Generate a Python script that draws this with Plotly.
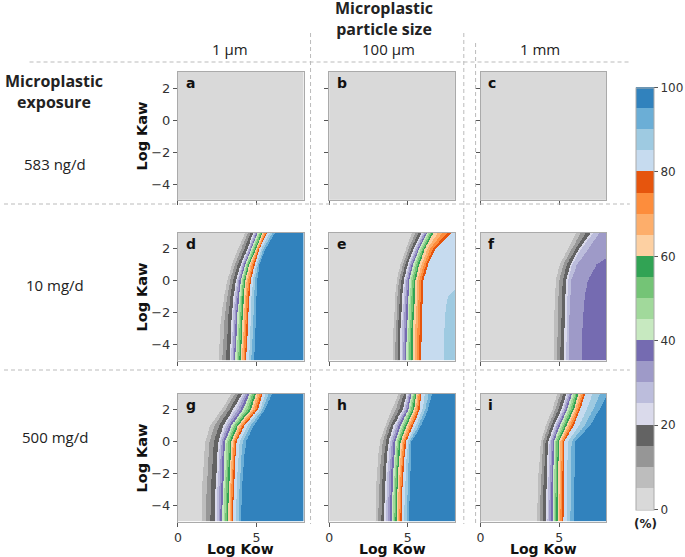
import numpy as np
import plotly.graph_objects as go

W, H = 685, 557

# ---------------- data ----------------
KOW_RANGE = [0, 8]
KAW_RANGE = [-5, 3]
KAW_ROWS = [-5, -4, -3, -2, -1, 0, 1, 2, 3]

SIZES = ["1 µm", "100 µm", "1 mm"]
EXPOSURES = ["583 ng/d", "10 mg/d", "500 mg/d"]
LETTERS = ["a", "b", "c", "d", "e", "f", "g", "h", "i"]

# Kow position (one per Kaw row) where the percentage reaches each level
PANEL_A = {}
PANEL_B = {}
PANEL_C = {}
PANEL_D = {
    5:  [2.6, 2.65, 2.7, 2.8, 2.95, 3.15, 3.45, 3.85, 4.3],
    20: [3.3, 3.35, 3.4, 3.45, 3.55, 3.7, 4.0, 4.45, 4.8],
    40: [3.65, 3.7, 3.75, 3.8, 3.9, 4.0, 4.3, 4.7, 5.1],
    60: [4.0, 4.05, 4.1, 4.15, 4.2, 4.3, 4.55, 5.0, 5.4],
    80: [4.35, 4.4, 4.45, 4.5, 4.55, 4.65, 4.9, 5.2, 5.7],
    95: [4.85, 4.9, 4.95, 5.0, 5.0, 5.05, 5.2, 5.6, 6.2],
}
PANEL_E = {
    5:  [4.05, 4.07, 4.1, 4.15, 4.2, 4.3, 4.55, 4.9, 5.3],
    20: [4.5, 4.52, 4.55, 4.6, 4.65, 4.75, 5.0, 5.4, 5.9],
    40: [4.9, 4.92, 4.95, 5.0, 5.05, 5.1, 5.35, 5.75, 6.25],
    60: [5.3, 5.32, 5.35, 5.4, 5.45, 5.5, 5.75, 6.1, 6.65],
    80: [5.85, 5.87, 5.9, 5.93, 5.97, 6.0, 6.3, 6.8, 7.85],
    85: [7.3, 7.32, 7.35, 7.4, 7.55, 8.6, 9.5, 9.8, 10.0],
}
PANEL_F = {
    5:  [4.65, 4.67, 4.7, 4.72, 4.75, 4.8, 5.05, 5.6, 6.1],
    20: [5.3, 5.32, 5.35, 5.38, 5.42, 5.46, 5.73, 6.3, 7.05],
    25: [5.45, 5.47, 5.5, 5.52, 5.55, 5.58, 5.83, 6.45, 7.2],
    30: [5.6, 5.62, 5.65, 5.68, 5.72, 5.77, 6.15, 6.9, 7.6],
    35: [6.45, 6.47, 6.5, 6.55, 6.65, 6.85, 7.4, 9.0, 10.0],
}
PANEL_G = {
    5:  [1.5, 1.52, 1.55, 1.6, 1.67, 1.75, 2.06, 2.79, 3.42],
    20: [2.35, 2.37, 2.4, 2.45, 2.5, 2.58, 2.9, 3.52, 4.1],
    40: [2.83, 2.85, 2.88, 2.92, 2.96, 3.0, 3.42, 4.15, 4.56],
    60: [3.2, 3.22, 3.25, 3.3, 3.36, 3.42, 3.83, 4.67, 4.98],
    80: [3.52, 3.54, 3.57, 3.62, 3.67, 3.73, 4.25, 5.1, 5.4],
    95: [4.02, 4.05, 4.1, 4.15, 4.22, 4.35, 4.85, 5.55, 6.0],
}
PANEL_H = {
    5:  [2.95, 2.97, 3.0, 3.05, 3.12, 3.23, 3.58, 4.0, 4.42],
    20: [3.5, 3.52, 3.55, 3.6, 3.68, 3.79, 4.1, 4.69, 4.94],
    40: [3.98, 4.0, 4.03, 4.08, 4.14, 4.21, 4.56, 5.04, 5.25],
    60: [4.3, 4.32, 4.35, 4.4, 4.47, 4.56, 4.94, 5.4, 5.56],
    80: [4.62, 4.64, 4.67, 4.72, 4.8, 4.9, 5.35, 5.77, 5.88],
    95: [5.1, 5.12, 5.14, 5.17, 5.2, 5.25, 5.87, 6.29, 6.56],
}
PANEL_I = {
    5:  [3.6, 3.62, 3.65, 3.7, 3.77, 3.85, 4.17, 4.58, 4.9],
    20: [4.17, 4.19, 4.2, 4.23, 4.27, 4.31, 4.69, 5.15, 5.48],
    40: [4.58, 4.6, 4.62, 4.64, 4.66, 4.69, 5.06, 5.52, 5.83],
    60: [4.9, 4.92, 4.94, 4.96, 4.98, 5.0, 5.48, 5.94, 6.25],
    80: [5.27, 5.29, 5.3, 5.31, 5.33, 5.35, 5.94, 6.35, 6.67],
    95: [5.94, 5.95, 5.96, 5.98, 6.0, 6.04, 6.98, 7.6, 8.1],
}
# value reached at high Kow (beyond the last boundary)
PLATEAU = [0, 0, 0, 97.5, 87.5, 37.5, 97.5, 97.5, 97.5]
PANELS = [PANEL_A, PANEL_B, PANEL_C, PANEL_D, PANEL_E, PANEL_F, PANEL_G, PANEL_H, PANEL_I]

CBAR_TICKS = [0, 20, 40, 60, 80, 100]
# tab20c, reversed (0 % -> 100 %), 5 % steps
BAND_COLORS = ['#d9d9d9', '#bdbdbd', '#969696', '#636363',
               '#dadaeb', '#bcbddc', '#9e9ac8', '#756bb1',
               '#c7e9c0', '#a1d99b', '#74c476', '#31a354',
               '#fdd0a2', '#fdae6b', '#fd8d3c', '#e6550d',
               '#c6dbef', '#9ecae1', '#6baed6', '#3182bd']

# ---------------- build ----------------
kow = np.linspace(KOW_RANGE[0], KOW_RANGE[1], 321)
kaw = np.linspace(KAW_RANGE[0], KAW_RANGE[1], 321)


def field(panel, plateau):
    z = np.zeros((len(kaw), len(kow)))
    if not panel:
        return z + plateau
    levels = sorted(panel)
    pos = np.array([np.interp(kaw, KAW_ROWS, panel[l]) for l in levels])
    for j in range(len(kaw)):
        z[j] = np.interp(kow, pos[:, j], levels, left=0.0, right=plateau)
    return z


n = len(BAND_COLORS)
colorscale = []
for k, c in enumerate(BAND_COLORS):
    colorscale.append([k / n, c])
    colorscale.append([(k + 1) / n, c])

COL_PX = [(177, 305), (331, 459), (485, 613)]
ROW_PX = [(72, 200), (232.5, 360.5), (393.5, 521.5)]

fx = lambda p: p / W
fy = lambda p: 1 - p / H

fig = go.Figure()
layout = {}
annotations = []
tickfont = dict(family="DejaVu Sans", size=13, color="#333333")
xtickfont = dict(family="DejaVu Sans", size=12.5, color="#333333")

for idx in range(9):
    r, c = divmod(idx, 3)
    k = idx + 1
    xs = "" if k == 1 else str(k)
    fig.add_trace(go.Heatmap(
        x=kow, y=kaw, z=field(PANELS[idx], PLATEAU[idx]),
        coloraxis="coloraxis", xaxis="x" + xs, yaxis="y" + xs,
        hoverinfo="skip", zsmooth=False))
    x0, x1 = COL_PX[c]
    y0, y1 = ROW_PX[r]
    layout["xaxis" + xs] = dict(
        domain=[fx(x0), fx(x1)], anchor="y" + xs, range=KOW_RANGE,
        tickvals=[0, 5], showticklabels=(r == 2), ticks="outside", ticklen=4,
        tickcolor="#555555", showline=True, mirror=True, linecolor="#aaaaaa",
        linewidth=1, showgrid=False, zeroline=False, tickfont=xtickfont, fixedrange=True)
    layout["yaxis" + xs] = dict(
        domain=[fy(y1), fy(y0)], anchor="x" + xs, range=KAW_RANGE,
        tickvals=[-4, -2, 0, 2], showticklabels=(c == 0), ticks="outside", ticklen=4,
        tickcolor="#555555", showline=True, mirror=True, linecolor="#aaaaaa",
        linewidth=1, showgrid=False, zeroline=False, tickfont=tickfont, fixedrange=True)
    annotations.append(dict(
        text="<b>%s</b>" % LETTERS[idx], x=fx(x0 + 6), y=fy(y0 + 11),
        xref="paper", yref="paper", xanchor="left", yanchor="middle", showarrow=False,
        font=dict(family="DejaVu Sans", size=14, color="#111111")))

label_font = dict(family="Open Sans", size=15, color="#222222")
bold_font = dict(family="Open Sans", size=16, color="#222222")
# column headers
for c, (txt, cx) in enumerate(zip(SIZES, [230.5, 391.5, 545.5])):
    annotations.append(dict(text=txt, x=fx(cx), y=fy(48.5), xref="paper", yref="paper",
                            xanchor="center", yanchor="middle", showarrow=False, font=label_font))
annotations.append(dict(text="<b>Microplastic<br>particle size</b>", x=fx(387), y=fy(18.5),
                        xref="paper", yref="paper", xanchor="center", yanchor="middle",
                        showarrow=False, font=bold_font))
annotations.append(dict(text="<b>Microplastic<br>exposure</b>", x=fx(50.5), y=fy(91.5),
                        xref="paper", yref="paper", xanchor="center", yanchor="middle",
                        showarrow=False, font=bold_font))
for txt, cy in zip(EXPOSURES, [164, 285, 437]):
    annotations.append(dict(text=txt, x=fx(52), y=fy(cy), xref="paper", yref="paper",
                            xanchor="center", yanchor="middle", showarrow=False, font=label_font))
# axis titles
title_font = dict(family="DejaVu Sans", size=14.5, color="#111111")
for cy in [136, 297, 458]:
    annotations.append(dict(text="<b>Log Kaw</b>", x=fx(140), y=fy(cy), xref="paper", yref="paper",
                            xanchor="center", yanchor="middle", textangle=-90, showarrow=False,
                            font=title_font))
for cx in [241, 395, 549]:
    annotations.append(dict(text="<b>Log Kow</b>", x=fx(cx), y=fy(548.5), xref="paper", yref="paper",
                            xanchor="center", yanchor="middle", showarrow=False,
                            font=dict(family="DejaVu Sans", size=14, color="#111111")))
annotations.append(dict(text="<b>(%)</b>", x=fx(652.5), y=fy(524), xref="paper", yref="paper",
                        xanchor="center", yanchor="middle", showarrow=False,
                        font=dict(family="DejaVu Sans", size=12, color="#222222")))

# dashed separators
dash = dict(color="#bbbbbb", width=1, dash="4px,3px")
shapes = [
    dict(type="line", xref="paper", yref="paper", x0=fx(26), x1=fx(637), y0=fy(62), y1=fy(62), line=dash),
    dict(type="line", xref="paper", yref="paper", x0=fx(0), x1=fx(637), y0=fy(204), y1=fy(204), line=dash),
    dict(type="line", xref="paper", yref="paper", x0=fx(0), x1=fx(637), y0=fy(370), y1=fy(370), line=dash),
    dict(type="line", xref="paper", yref="paper", x0=fx(312), x1=fx(312), y0=fy(33), y1=fy(524), line=dash),
    dict(type="line", xref="paper", yref="paper", x0=fx(468), x1=fx(468), y0=fy(33), y1=fy(524), line=dash),
    dict(type="line", xref="paper", yref="paper", x0=fx(480), x1=fx(480), y0=fy(43), y1=fy(524), line=dash),
]

layout.update(
    width=W, height=H, margin=dict(l=0, r=0, t=0, b=0),
    paper_bgcolor="white", plot_bgcolor="white", showlegend=False,
    coloraxis=dict(
        colorscale=colorscale, cmin=0, cmax=100,
        colorbar=dict(
            x=fx(643.5), xanchor="left", xpad=0, y=fy(509.5), yanchor="bottom", ypad=0,
            len=(509.5 - 87.5) / H, lenmode="fraction", thickness=18, thicknessmode="pixels",
            outlinecolor="#aaaaaa", outlinewidth=1, tickvals=CBAR_TICKS, ticks="outside",
            ticklen=4, tickcolor="#555555",
            tickfont=dict(family="DejaVu Sans", size=12, color="#333333"))),
    annotations=annotations, shapes=shapes,
)
fig.update_layout(**layout)
fig.write_html("out.html", config={"displayModeBar": False},
               post_script="document.body.style.margin='0px';document.body.style.overflow='hidden';")
